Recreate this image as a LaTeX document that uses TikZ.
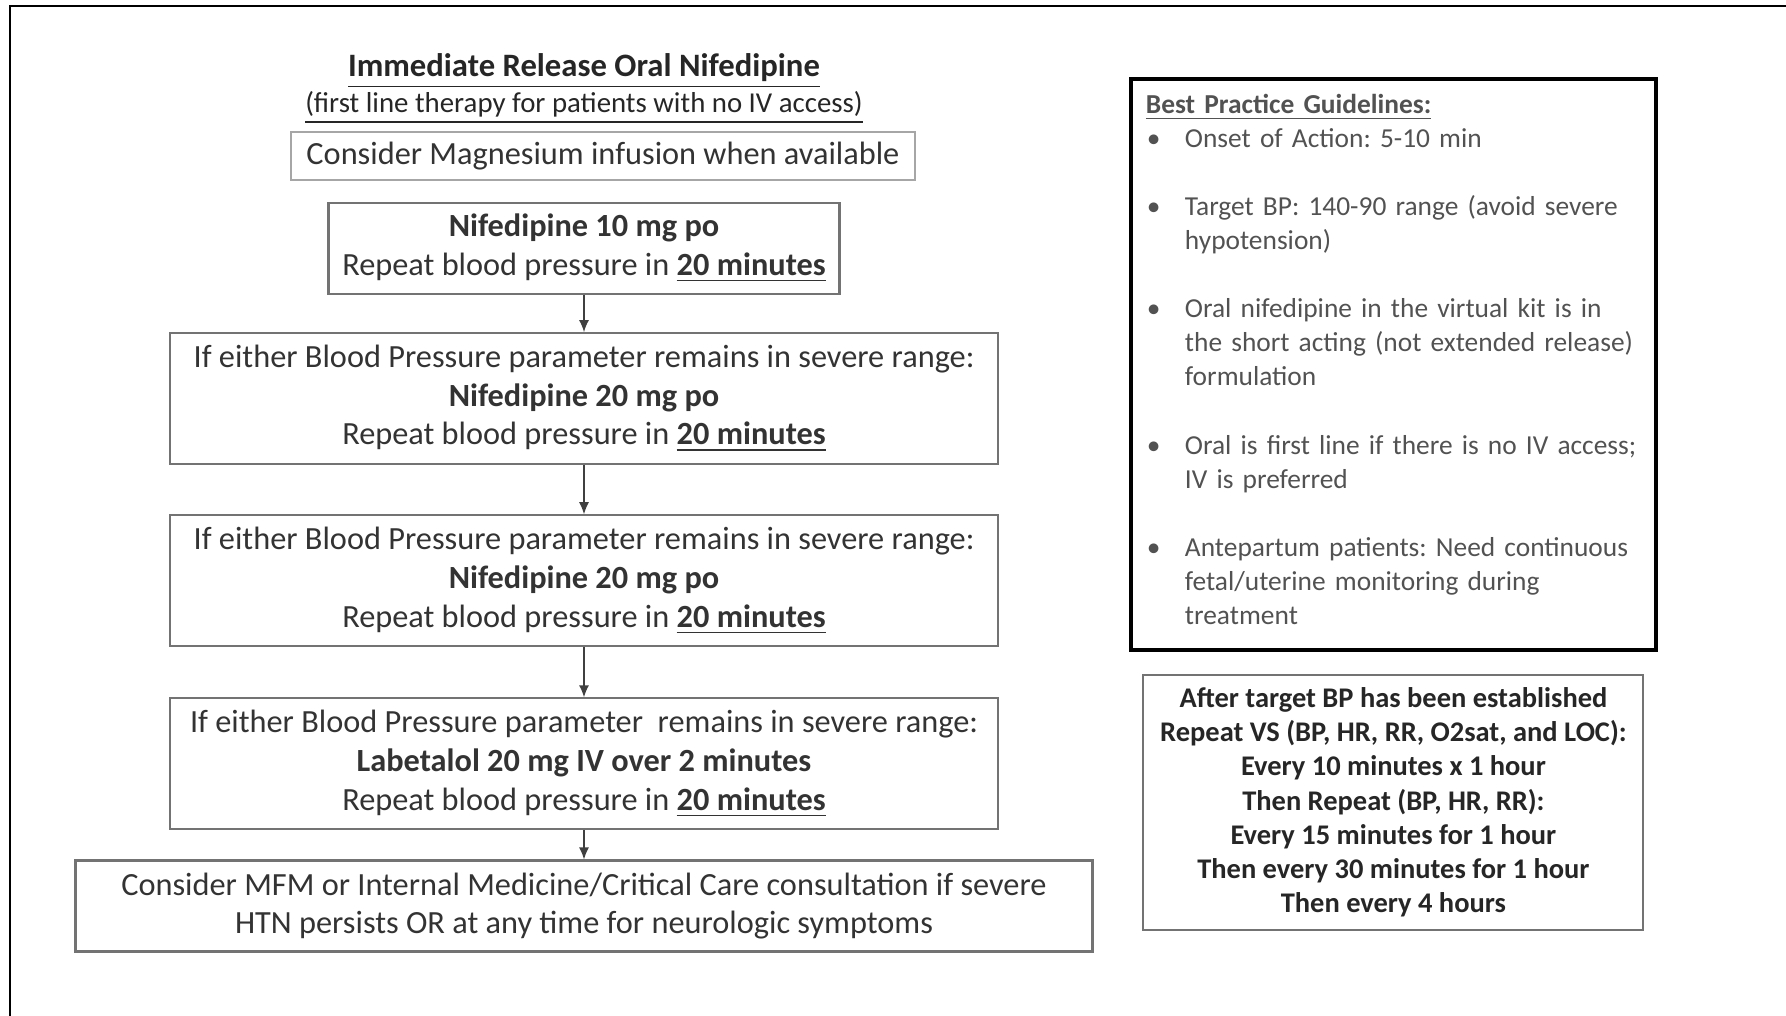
\documentclass[tikz,border=0pt]{standalone}
\usepackage{fontspec}
\setmainfont{Carlito}
\usetikzlibrary{arrows.meta,positioning}

\frenchspacing
\newcommand{\flowfont}{\fontsize{9.2}{11}\selectfont}
\newcommand{\sidefont}{\fontsize{7.8}{9.7}\selectfont}
\newcommand{\severe}{If either Blood Pressure parameter remains in severe range:}
\newcommand{\repeatbp}{Repeat blood pressure in \textbf{\underline{20 minutes}}}
\newcommand{\gitem}[1]{\par\noindent\makebox[3.9mm][l]{\hspace{0.1mm}\textbullet}\mbox{#1}}
\newcommand{\gmore}[1]{\par\noindent\hspace*{3.9mm}\mbox{#1}}

\begin{document}
\begin{tikzpicture}[
  x=1mm, y=1mm,
  font=\flowfont,
  flowbox/.style={
    draw=black!55,
    line width=.6pt,
    align=center,
    inner sep=0pt,
    text=black!80
  },
  heading/.style={align=center, inner sep=0pt, text=black!85},
  guide/.style={
    draw=black,
    line width=1.1pt,
    inner sep=1.5mm,
    text width=49.5mm,
    minimum height=56.9mm,
    align=left,
    font=\sidefont,
    text=black!68
  },
  vsbox/.style={
    draw=black!55,
    line width=.6pt,
    align=center,
    inner sep=0pt,
    minimum width=50mm,
    minimum height=25.5mm,
    font=\fontsize{8.1}{9.7}\selectfont\bfseries,
    text=black!85
  },
  arrow/.style={-{Latex[length=1.2mm,width=1mm]}, line width=.4pt, draw=black!75}
]
\useasboundingbox (0,0) rectangle (178.6,-101.6);
\draw[line width=.7pt] (1.0,-101.6) -- (1.0,-0.6) -- (178.6,-0.6);

% treatment column
\node[heading, font=\fontsize{9.3}{11}\selectfont\bfseries] (title) at (58.4,-7.1)
  {\underline{Immediate Release Oral Nifedipine}};
\node[heading, font=\fontsize{8.2}{9}\selectfont, below=0.15mm of title] (firstline)
  {\underline{(first line therapy for patients with no IV access)}};
\node[flowbox, draw=black!35, minimum width=62.4mm, minimum height=4.8mm,
  below=0.6mm of firstline, xshift=1.9mm] (magnesium)
  {Consider Magnesium infusion when available};
\node[flowbox, minimum width=51.1mm, minimum height=9.1mm,
  below=2.1mm of magnesium, xshift=-1.9mm] (nifeten)
  {\textbf{Nifedipine 10 mg po}\\\repeatbp};
\node[flowbox, minimum width=82.8mm, minimum height=13.1mm, below=3.7mm of nifeten] (nifetwenty)
  {\severe\\\textbf{Nifedipine 20 mg po}\\\repeatbp};
\node[flowbox, minimum width=82.8mm, minimum height=13.1mm, below=4.9mm of nifetwenty] (nifeagain)
  {\severe\\\textbf{Nifedipine 20 mg po}\\\repeatbp};
\node[flowbox, minimum width=82.8mm, minimum height=13.1mm, below=5.0mm of nifeagain] (labetalol)
  {If either Blood Pressure parameter\ \ remains in severe range:\\\textbf{Labetalol 20 mg IV over 2 minutes}\\\repeatbp};
\node[flowbox, minimum width=101.7mm, minimum height=9.1mm, below=2.9mm of labetalol] (consult)
  {Consider MFM or Internal Medicine/Critical Care consultation if severe\\HTN persists OR at any time for neurologic symptoms};

\draw[arrow] (nifeten) -- (nifetwenty);
\draw[arrow] (nifetwenty) -- (nifeagain);
\draw[arrow] (nifeagain) -- (labetalol);
\draw[arrow] (labetalol) -- (consult);

% side notes
\node[guide, anchor=north west] (guidelines) at (112.9,-7.7) {%
  \textbf{\underline{Best Practice Guidelines:}}
  \gitem{Onset of Action: 5-10 min}
  \par\vspace{\baselineskip}
  \gitem{Target BP: 140-90 range (avoid severe}
  \gmore{hypotension)}
  \par\vspace{\baselineskip}
  \gitem{Oral nifedipine in the virtual kit is in}
  \gmore{the short acting (not extended release)}
  \gmore{formulation}
  \par\vspace{\baselineskip}
  \gitem{Oral is first line if there is no IV access;}
  \gmore{IV is preferred}
  \par\vspace{\baselineskip}
  \gitem{Antepartum patients: Need continuous}
  \gmore{fetal/uterine monitoring during}
  \gmore{treatment}
  \par\vspace{1mm}};
\node[vsbox, below=2.2mm of guidelines] (vitals)
  {After target BP has been established\\Repeat VS (BP, HR, RR, O2sat, and LOC):\\Every 10 minutes x 1 hour\\
   Then Repeat (BP, HR, RR):\\Every 15 minutes for 1 hour\\Then every 30 minutes for 1 hour\\Then every 4 hours};
\end{tikzpicture}
\end{document}
